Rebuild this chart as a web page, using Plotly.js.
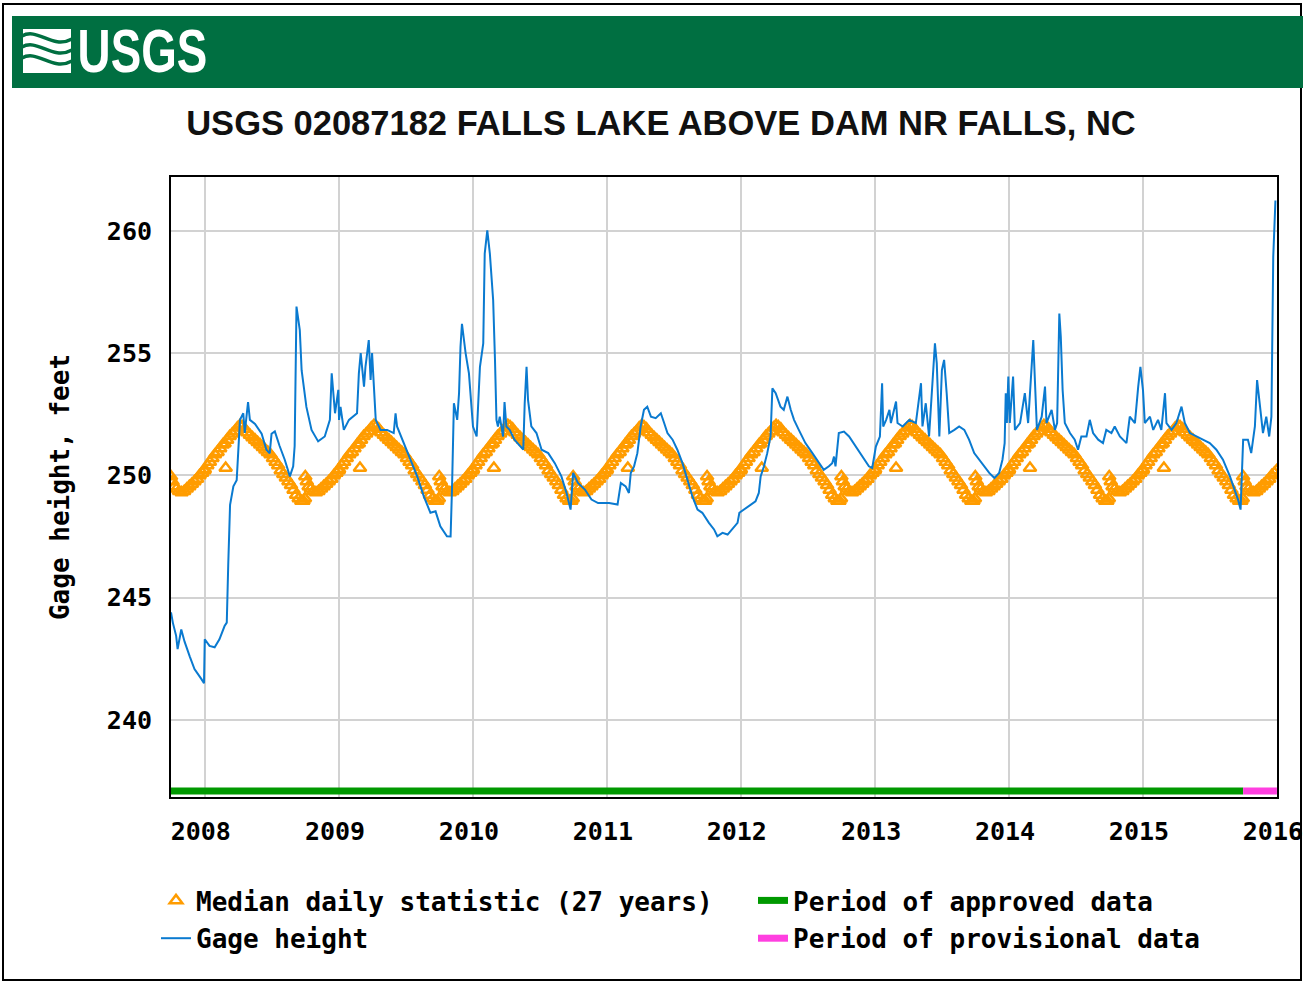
<!DOCTYPE html>
<html>
<head>
<meta charset="utf-8">
<script src="https://cdn.plot.ly/plotly-3.0.1.min.js"></script>
<style>
html,body{margin:0;padding:0;background:#fff;}
#chart{width:1303px;height:983px;}
#chart .annotation-text{transform-box:fill-box;transform-origin:center;transform:scaleX(0.75);}
</style>
</head>
<body>
<div id="chart"></div>
<script>
// ---------- DATA ----------
const chartTitle = "USGS 02087182 FALLS LAKE ABOVE DAM NR FALLS, NC";
const yTickValues = [240, 245, 250, 255, 260];
const seriesNames = ["Median daily statistic (27 years)", "Gage height", "Period of approved data", "Period of provisional data"];

// Gage height (feet)
const gageDate = [
'2007-10-01','2007-10-06','2007-10-15','2007-10-19','2007-10-29','2007-11-07','2007-11-21','2007-12-04','2007-12-23','2007-12-30',
'2008-01-01','2008-01-14','2008-01-28','2008-02-10','2008-02-24','2008-03-01','2008-03-05','2008-03-10','2008-03-19','2008-03-28',
'2008-04-01','2008-04-06','2008-04-15','2008-04-19','2008-04-28','2008-05-03','2008-05-17','2008-06-04','2008-06-17','2008-06-26',
'2008-07-01','2008-07-10','2008-07-23','2008-08-06','2008-08-20','2008-08-29','2008-09-02','2008-09-07','2008-09-16','2008-09-21',
'2008-10-04','2008-10-18','2008-11-05','2008-11-23','2008-12-07','2008-12-12','2008-12-21','2008-12-30',
'2009-01-01','2009-01-05','2009-01-14','2009-01-28','2009-02-19','2009-02-24','2009-03-01','2009-03-10','2009-03-14','2009-03-23',
'2009-03-28','2009-04-01','2009-04-06','2009-04-11','2009-04-24','2009-05-12','2009-05-30','2009-06-04','2009-06-08','2009-06-26',
'2009-07-15','2009-08-02','2009-08-20','2009-09-07','2009-09-21','2009-10-04','2009-10-22','2009-11-01','2009-11-05','2009-11-10',
'2009-11-19','2009-11-24','2009-11-28','2009-12-02','2009-12-12','2009-12-21',
'2010-01-01','2010-01-11','2010-01-20','2010-01-29','2010-02-02','2010-02-09','2010-02-16','2010-02-25','2010-03-02','2010-03-06',
'2010-03-10','2010-03-15','2010-03-24','2010-03-28','2010-04-02','2010-04-11','2010-04-24','2010-05-09','2010-05-18','2010-05-22',
'2010-05-27','2010-05-31','2010-06-09','2010-06-23','2010-07-07','2010-07-25','2010-08-12','2010-08-30','2010-09-13','2010-09-24',
'2010-10-01','2010-10-14','2010-11-02','2010-11-20','2010-12-08',
'2011-01-07','2011-01-30','2011-02-08','2011-02-21','2011-03-02','2011-03-07','2011-03-16','2011-03-25','2011-04-03','2011-04-12',
'2011-04-21','2011-05-01','2011-05-14','2011-05-28','2011-06-06','2011-06-15','2011-06-29','2011-07-12','2011-07-26','2011-08-09',
'2011-08-22','2011-09-05','2011-09-18','2011-10-06','2011-10-20','2011-10-29','2011-11-12','2011-11-26','2011-12-09','2011-12-23',
'2011-12-28',
'2012-01-10','2012-01-28','2012-02-10','2012-02-19','2012-02-24','2012-03-04','2012-03-13','2012-03-22','2012-03-27','2012-04-05',
'2012-04-18','2012-04-27','2012-05-07','2012-05-16','2012-05-25','2012-06-07','2012-06-25','2012-07-14','2012-08-01','2012-08-14',
'2012-08-28','2012-09-06','2012-09-11','2012-09-15','2012-09-24','2012-10-08','2012-10-22','2012-11-09','2012-11-27','2012-12-15',
'2012-12-24',
'2013-01-03','2013-01-14','2013-01-20','2013-01-23','2013-01-31','2013-02-09','2013-02-13','2013-02-27','2013-03-03','2013-03-17',
'2013-04-04','2013-04-22','2013-05-06','2013-05-10','2013-05-19','2013-05-28','2013-06-07','2013-06-13','2013-06-18','2013-06-25',
'2013-07-02','2013-07-08','2013-07-15','2013-07-22','2013-08-05','2013-08-18','2013-09-01','2013-09-14','2013-09-28','2013-10-12',
'2013-10-25','2013-11-08','2013-11-22','2013-12-05','2013-12-14','2013-12-20','2013-12-23','2013-12-26','2013-12-30',
'2014-01-03','2014-01-12','2014-01-17','2014-01-31','2014-02-13','2014-02-22','2014-03-01','2014-03-08','2014-03-12','2014-03-18',
'2014-03-31','2014-04-09','2014-04-13','2014-04-27','2014-05-06','2014-05-12','2014-05-18','2014-05-22','2014-05-27','2014-06-02',
'2014-06-16','2014-06-29','2014-07-08','2014-07-17','2014-07-31','2014-08-09','2014-08-18','2014-09-01','2014-09-14','2014-09-23',
'2014-10-07','2014-10-16','2014-10-30','2014-11-17','2014-11-26','2014-12-10','2014-12-19','2014-12-25',
'2015-01-01','2015-01-06','2015-01-20','2015-01-29','2015-02-11','2015-02-20','2015-03-02','2015-03-06','2015-03-20','2015-04-02',
'2015-04-16','2015-04-25','2015-05-09','2015-05-27','2015-06-14','2015-07-02','2015-07-20','2015-08-07','2015-08-26','2015-09-08',
'2015-09-17','2015-09-24','2015-10-01','2015-10-14','2015-10-23','2015-11-02','2015-11-08','2015-11-15','2015-11-24','2015-12-03',
'2015-12-11','2015-12-17','2015-12-22','2015-12-28'
];
const gageValue = [
244.4,243.98,243.44,242.9,243.7,243.2,242.6,242.08,241.67,241.5,
243.3,243.03,242.97,243.3,243.84,243.98,246.36,248.8,249.55,249.8,
250.9,252.27,252.54,251.74,253.0,252.27,252.1,251.7,251.05,250.9,
251.7,251.8,251.2,250.64,249.96,250.37,251.2,256.9,255.94,254.3,
252.8,251.86,251.39,251.59,252.27,254.17,252.54,253.5,
252.27,252.8,251.86,252.27,252.54,254.17,255.0,253.63,254.44,255.53,
253.9,255.0,253.63,252.27,251.86,251.86,251.73,252.54,252.0,251.32,
250.64,249.96,249.14,248.47,248.53,247.92,247.51,247.5,249.55,252.95,
252.27,253.36,255.26,256.2,254.99,254.17,
252.0,251.59,254.44,255.4,259.07,260.02,259.07,257.16,254.72,252.27,
252.0,252.4,251.59,253.0,252.0,251.86,251.46,251.18,251.05,252.95,
254.44,253.09,252.0,251.73,251.05,250.91,250.5,249.96,249.28,248.6,
250.1,249.69,249.42,249.01,248.87,
248.87,248.81,249.69,249.55,249.28,250.1,250.37,250.91,252.0,252.68,
252.81,252.4,252.34,252.54,252.14,251.73,251.46,251.05,250.5,249.82,
249.14,248.6,248.47,248.06,247.79,247.51,247.65,247.58,247.79,248.06,
248.47,
248.6,248.81,248.94,249.28,249.96,250.37,250.91,251.59,253.56,253.36,
252.81,252.68,253.22,252.68,252.27,251.86,251.32,250.91,250.5,250.23,
250.37,250.5,250.77,250.37,251.73,251.79,251.59,251.18,250.77,250.37,
250.3,
251.18,251.59,253.77,252.0,252.27,252.68,252.14,253.02,252.14,252.0,
252.27,252.14,253.77,252.0,252.95,251.59,254.31,255.4,254.58,251.59,
254.31,254.72,253.36,251.73,251.86,252.0,251.86,251.46,250.91,250.64,
250.37,250.1,249.89,250.1,250.64,251.32,253.36,252.14,254.04,
252.14,254.04,251.86,252.14,253.36,252.14,254.04,255.53,254.04,251.86,
252.4,253.63,252.14,252.68,251.86,252.14,256.62,255.67,253.49,252.14,
251.73,251.46,251.05,251.59,251.59,252.27,251.73,251.46,251.32,251.86,
251.73,252.0,251.59,251.32,252.4,252.14,253.63,254.44,
253.49,252.14,252.4,251.86,252.27,251.86,253.36,252.14,251.86,252.14,
252.81,252.14,251.73,251.59,251.46,251.32,251.05,250.64,249.96,249.42,
249.01,248.6,251.46,251.46,250.91,252.0,253.9,252.95,251.73,252.4,
251.59,252.4,258.93,261.24
];

// Median daily statistic (27 years): one value per calendar day sampled through the year
const medianMonthDay = [
'01-01','01-08','01-15','01-22','01-29','02-05','02-12','02-19','02-24','02-27',
'03-02','03-09','03-16','03-23','03-30','04-06','04-12','04-19','04-26','05-03',
'05-10','05-17','05-24','05-31','06-07','06-14','06-21','06-28','07-05','07-12',
'07-19','07-26','08-02','08-09','08-16','08-23','08-30','09-06','09-13','09-20',
'09-26','09-30','10-01','10-05','10-10','10-16','10-23','10-30','11-06','11-13',
'11-20','11-27','12-04','12-11','12-18','12-25','12-31'
];
const medianValue = [
250.25,250.4,250.55,250.7,250.85,250.95,251.1,251.25,251.3,250.3,
251.45,251.6,251.7,251.8,251.95,252.05,252.0,251.9,251.75,251.65,
251.55,251.45,251.35,251.25,251.15,251.05,250.95,250.85,250.7,250.55,
250.4,250.2,250.05,249.9,249.75,249.6,249.4,249.2,249.05,248.95,
248.95,249.05,249.95,249.75,249.55,249.45,249.35,249.3,249.35,249.45,
249.55,249.65,249.75,249.85,250.0,250.1,250.2
];
const medianYears = [2007, 2008, 2009, 2010, 2011, 2012, 2013, 2014, 2015];

// Data-approval periods
const approvedPeriod = ['2007-10-01', '2015-10-01'];
const provisionalPeriod = ['2015-10-01', '2016-01-01'];

// ---------- BUILD ----------
const medianX = [], medianY = [];
medianYears.forEach(function (yr) {
  medianMonthDay.forEach(function (md, i) {
    const d = yr + '-' + md;
    if (d >= '2007-10-01') { medianX.push(d); medianY.push(medianValue[i]); }
  });
});

const BAR_LEVEL = 237.1;
const MONO = 'DejaVu Sans Mono, Liberation Mono, monospace';
const SANS = 'Liberation Sans, Arial, Helvetica, sans-serif';

// plot area in pixels: left 171, right 1277, top 177, bottom 797
const PL = 171, PR = 1277, PT = 177, PB = 797;
function PX(p) { return (p - PL) / (PR - PL); }
function PY(p) { return (PB - p) / (PB - PT); }

const tickFont = { family: MONO, size: 25, color: '#000', weight: 700 };
const legendFont = { family: MONO, size: 26, color: '#000', weight: 700 };

const traces = [
  {
    type: 'scatter', mode: 'markers', name: seriesNames[0],
    x: medianX, y: medianY, legend: 'legend', legendgroup: 'a',
    marker: { symbol: 'triangle-up-open', size: 11, color: '#ff9c00', line: { width: 2.5 } },
    hoverinfo: 'x+y'
  },
  {
    type: 'scatter', mode: 'lines', name: seriesNames[1],
    x: gageDate, y: gageValue, legend: 'legend', legendgroup: 'b',
    line: { color: '#0a7ad0', width: 2 }
  },
  {
    type: 'scatter', mode: 'lines', name: seriesNames[2],
    x: approvedPeriod, y: approvedPeriod.map(function () { return BAR_LEVEL; }), legend: 'legend2', legendgroup: 'c',
    line: { color: '#009900', width: 7 }, hoverinfo: 'skip'
  },
  {
    type: 'scatter', mode: 'lines', name: seriesNames[3],
    x: provisionalPeriod, y: provisionalPeriod.map(function () { return BAR_LEVEL; }), legend: 'legend2', legendgroup: 'd',
    line: { color: '#ff3fe0', width: 7 }, hoverinfo: 'skip'
  }
];

const shapes = [
  // outer frame
  { type: 'rect', xref: 'paper', yref: 'paper', x0: PX(3), x1: PX(1301), y0: PY(4), y1: PY(980),
    line: { color: '#000', width: 2 }, fillcolor: 'rgba(0,0,0,0)', layer: 'below' },
  // green header band
  { type: 'rect', xref: 'paper', yref: 'paper', x0: PX(12), x1: PX(1305), y0: PY(16), y1: PY(88),
    line: { width: 0 }, fillcolor: '#006f41', layer: 'below' },
  // logo block
  { type: 'rect', xref: 'paper', yref: 'paper', x0: PX(23), x1: PX(71), y0: PY(29), y1: PY(73),
    line: { width: 0 }, fillcolor: '#ffffff', layer: 'below' }
];
// logo wave stripes
[[36, 42], [47, 53], [58, 64]].forEach(function (w) {
  const a = w[0], b = w[1];
  shapes.push({
    type: 'path', xref: 'paper', yref: 'paper', layer: 'below',
    path: 'M' + PX(22) + ',' + PY(a) + ' C' + PX(38) + ',' + PY(a - 9) + ' ' + PX(52) + ',' + PY(b + 8) + ' ' + PX(72) + ',' + PY(b - 3),
    line: { color: '#006f41', width: 3.5 }
  });
});

const layout = {
  width: 1303, height: 983,
  margin: { l: PL, r: 1303 - PR, t: PT, b: 983 - PB, pad: 0 },
  paper_bgcolor: '#ffffff', plot_bgcolor: '#ffffff',
  showlegend: true,
  title: {
    text: chartTitle, x: 661 / 1303, xanchor: 'center', xref: 'container',
    y: 1 - 123 / 983, yanchor: 'middle', yref: 'container',
    font: { family: SANS, size: 34.5, color: '#111111', weight: 700 }
  },
  xaxis: {
    type: 'date', range: ['2007-10-01', '2016-01-01 06:00'],
    dtick: 'M12', tick0: '2008-01-01', tickformat: '%Y',
    showgrid: true, gridcolor: '#d2d2d2', gridwidth: 2,
    showline: true, linecolor: '#000', linewidth: 2, mirror: true,
    ticks: '', ticklabelstandoff: 11, ticklabelshift: -4, ticklabeloverflow: 'allow', zeroline: false,
    tickfont: tickFont
  },
  yaxis: {
    range: [236.85, 262.2], tickvals: yTickValues,
    showgrid: true, gridcolor: '#d2d2d2', gridwidth: 2,
    showline: true, linecolor: '#000', linewidth: 2, mirror: true,
    ticks: '', ticklabelstandoff: 12, zeroline: false,
    tickfont: tickFont,
    title: { text: 'Gage height, feet', standoff: 30, font: { family: MONO, size: 26, color: '#000', weight: 700 } }
  },
  legend: {
    x: PX(156), xanchor: 'left', y: PY(877), yanchor: 'top', xref: 'paper', yref: 'paper',
    orientation: 'v', bgcolor: 'rgba(0,0,0,0)', borderwidth: 0, tracegroupgap: 1,
    font: legendFont
  },
  legend2: {
    x: PX(753), xanchor: 'left', y: PY(877), yanchor: 'top', xref: 'paper', yref: 'paper',
    orientation: 'v', bgcolor: 'rgba(0,0,0,0)', borderwidth: 0, tracegroupgap: 1,
    font: legendFont
  },
  shapes: shapes,
  annotations: [
    { text: 'USGS', xref: 'paper', yref: 'paper', x: PX(142), y: PY(51), xanchor: 'center', yanchor: 'middle',
      showarrow: false, font: { family: SANS, size: 61, color: '#ffffff', weight: 700 } }
  ]
};

Plotly.newPlot('chart', traces, layout, { displayModeBar: false, staticPlot: true });
</script>
</body>
</html>
